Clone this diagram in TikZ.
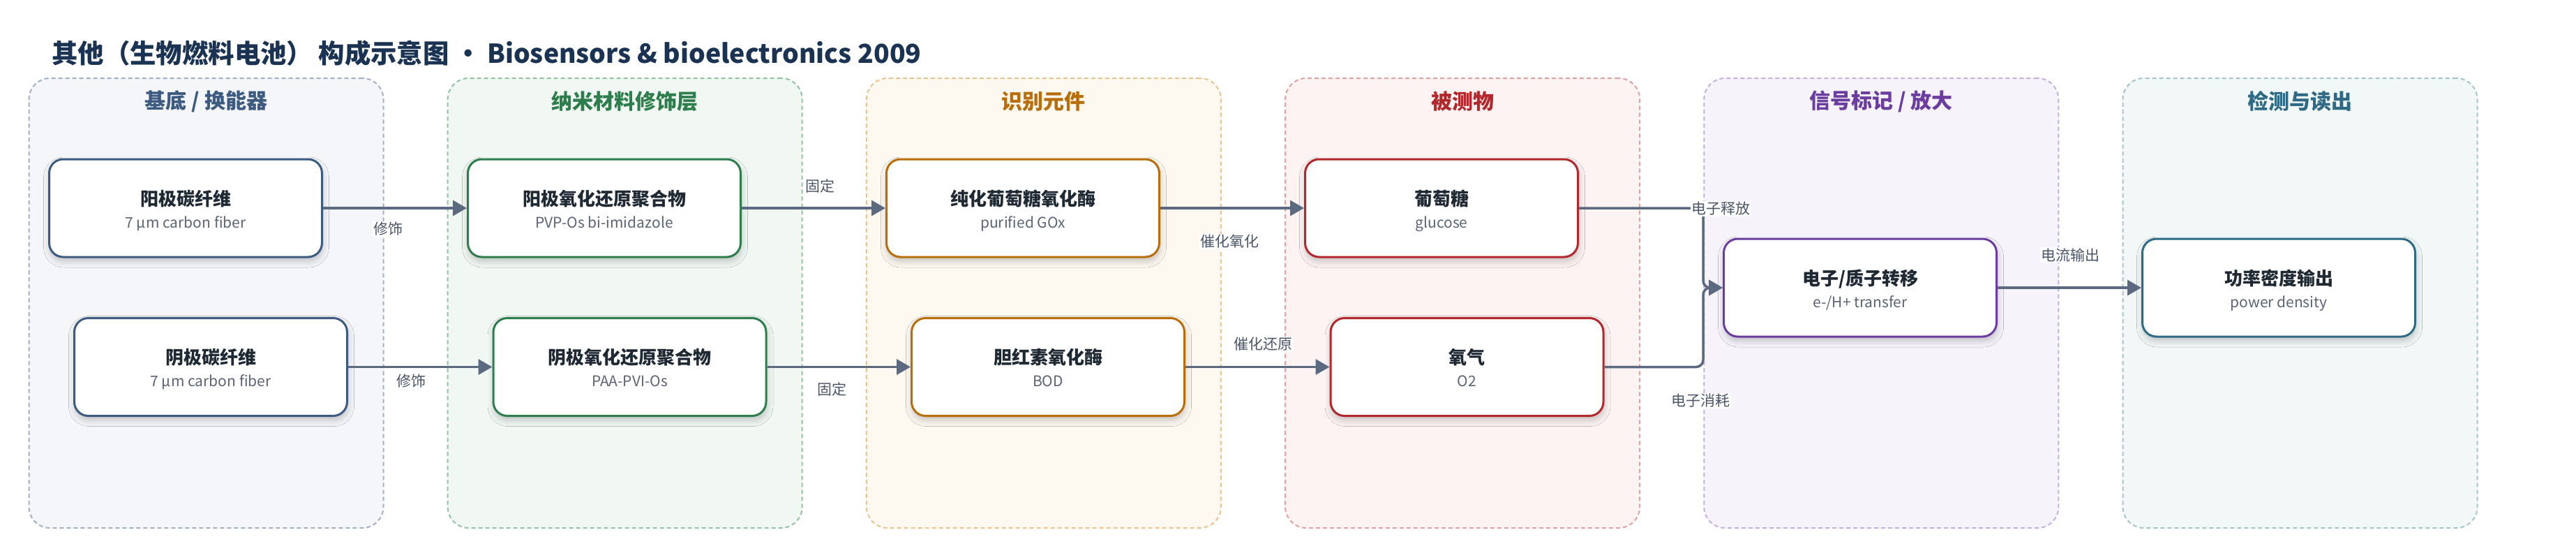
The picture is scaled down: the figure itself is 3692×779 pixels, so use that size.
\documentclass[tikz,border=0pt]{standalone}
\usepackage{fontspec}
\setmainfont{Noto Sans CJK SC}
\usetikzlibrary{arrows.meta,shadows.blur}
\definecolor{titlec}{HTML}{1A3352}
\definecolor{nodetxt}{HTML}{1F2933}
\definecolor{subtxt}{HTML}{5B6474}
\definecolor{lbltxt}{HTML}{4A5568}
\definecolor{edgec}{HTML}{5B6A80}
\definecolor{fA}{HTML}{F4F6FA}\definecolor{bA}{HTML}{A3B1C6}\definecolor{cA}{HTML}{3D5A80}
\definecolor{fB}{HTML}{F1F8F3}\definecolor{bB}{HTML}{93C4A3}\definecolor{cB}{HTML}{2E7D4C}
\definecolor{fC}{HTML}{FDF8F0}\definecolor{bC}{HTML}{E9C48E}\definecolor{cC}{HTML}{B86E0A}
\definecolor{fD}{HTML}{FDF3F3}\definecolor{bD}{HTML}{E2A2A2}\definecolor{cD}{HTML}{B3282C}
\definecolor{fE}{HTML}{F6F3FB}\definecolor{bE}{HTML}{C5B0E0}\definecolor{cE}{HTML}{6A3D9E}
\definecolor{fF}{HTML}{F2F7F8}\definecolor{bF}{HTML}{A6C4CD}\definecolor{cF}{HTML}{2E6A84}
\newcommand\mypanel[4]{% name, x, fill, border
  \node[panelbox, fill=#3, draw=#4] (#1) at (#2,434) {};
}
\newcommand\mybox[6]{% name, x, y, colour, title, subtitle
  \node[nodebox, draw=#4] (#1) at (#2,#3) {};
  \node[ttl, anchor=base] (#1t) at (#2,{#3-4}) {#5};
  \node[sub, anchor=base] (#1s) at (#2,{#3+28}) {#6};
}
\begin{document}
\begin{tikzpicture}[x=1pt,y=-1pt,
  panelbox/.style={rectangle, rounded corners=30pt, dashed, dash pattern=on 6pt off 4pt, line width=2pt, minimum width=508pt, minimum height=644pt, inner sep=0pt},
  ptitle/.style={font=\fontsize{30}{30}\selectfont\bfseries, inner sep=0pt},
  nodebox/.style={rectangle, rounded corners=20pt, fill=white, line width=3pt, minimum width=391pt, minimum height=140pt, inner sep=0pt,
     blur shadow={shadow xshift=1pt, shadow yshift=-6pt, shadow blur radius=9pt, shadow opacity=22}},
  ttl/.style={font=\fontsize{26}{26}\selectfont\bfseries, text=nodetxt, inner sep=0pt},
  sub/.style={font=\fontsize{21}{21}\selectfont, text=subtxt, inner sep=0pt},
  edge/.style={draw=edgec, line width=3.5pt, -{Triangle[length=20pt,width=22pt]}},
  lbl/.style={font=\fontsize{21}{21}\selectfont, text=lbltxt, fill=white, inner sep=1.5pt}]
\useasboundingbox (0,0) rectangle (3692,779);
\fill[white] (0,0) rectangle (3692,779);
% title
\node[anchor=base west, font=\fontsize{37.4}{37.4}\selectfont\bfseries, text=titlec, inner sep=0pt] (title) at (74,90)
  {其他（生物燃料电池） 构成示意图 · Biosensors \& bioelectronics 2009};
% panels
\mypanel{g1}{295.5}{fA}{bA}
\mypanel{g2}{895.7}{fB}{bB}
\mypanel{g3}{1495.9}{fC}{bC}
\mypanel{g4}{2096.1}{fD}{bD}
\mypanel{g5}{2696.3}{fE}{bE}
\mypanel{g6}{3296.5}{fF}{bF}
\node[ptitle, text=cA] (g1t) at (295.5,145) {基底 / 换能器};
\node[ptitle, text=cB] (g2t) at (895.7,145) {纳米材料修饰层};
\node[ptitle, text=cC] (g3t) at (1495.9,145) {识别元件};
\node[ptitle, text=cD] (g4t) at (2096.1,145) {被测物};
\node[ptitle, text=cE] (g5t) at (2696.3,145) {信号标记 / 放大};
\node[ptitle, text=cF] (g6t) at (3296.5,145) {检测与读出};
% nodes
\mybox{a1}{266}{298}{cA}{阳极碳纤维}{7 µm carbon fiber}
\mybox{a2}{866}{298}{cB}{阳极氧化还原聚合物}{PVP-Os bi-imidazole}
\mybox{a3}{1466}{298}{cC}{纯化葡萄糖氧化酶}{purified GOx}
\mybox{a4}{2066}{298}{cD}{葡萄糖}{glucose}
\mybox{b1}{302}{525.5}{cA}{阴极碳纤维}{7 µm carbon fiber}
\mybox{b2}{902.5}{525.5}{cB}{阴极氧化还原聚合物}{PAA-PVI-Os}
\mybox{b3}{1502}{525.5}{cC}{胆红素氧化酶}{BOD}
\mybox{b4}{2102.5}{525.5}{cD}{氧气}{O2}
\mybox{m}{2666}{412}{cE}{电子/质子转移}{e-/H+ transfer}
\mybox{r}{3266}{412}{cF}{功率密度输出}{power density}
% edges
\draw[edge] (a1.east) -- (a2.west);
\draw[edge] (a2.east) -- (a3.west);
\draw[edge] (a3.east) -- (a4.west);
\draw[edge] (b1.east) -- (b2.west);
\draw[edge] (b2.east) -- (b3.west);
\draw[edge] (b3.east) -- (b4.west);
\coordinate (jn) at (2441,412);
\draw[edge, rounded corners=10pt] (a4.east) -| (jn) -- (m.west);
\draw[edge, rounded corners=10pt] (b4.east) -| (jn) -- (m.west);
\draw[edge] (m.east) -- (r.west);
% edge labels
\node[lbl] (l1) at (556.5,328) {修饰};
\node[lbl] (l2) at (1175,266) {固定};
\node[lbl] (l3) at (589,546) {修饰};
\node[lbl] (l4) at (1192,557) {固定};
\node[lbl] (l5) at (1762,346) {催化氧化};
\node[lbl] (l6) at (1810,493) {催化还原};
\node[lbl] (l7) at (2466,299) {电子释放};
\node[lbl] (l8) at (2437,574) {电子消耗};
\node[lbl] (l9) at (2967,365) {电流输出};
\end{tikzpicture}
\end{document}
